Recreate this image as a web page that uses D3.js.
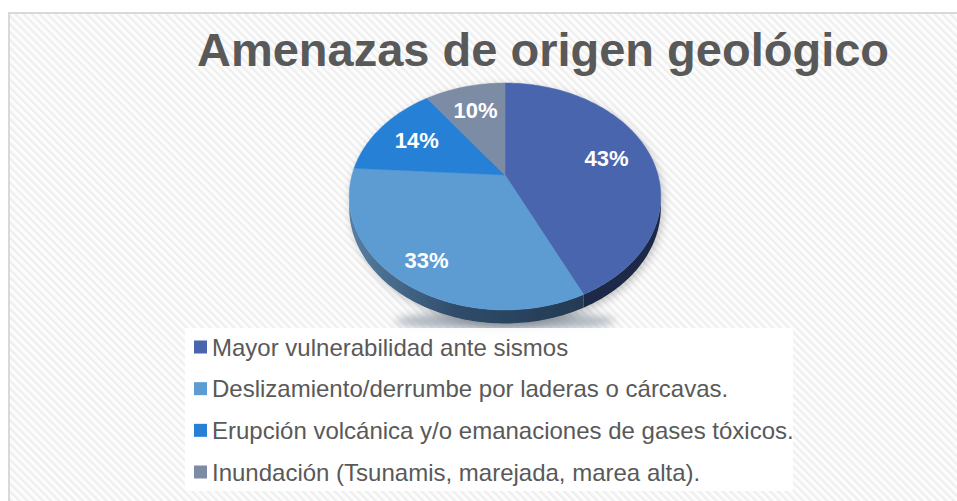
<!DOCTYPE html>
<html>
<head>
<meta charset="utf-8">
<title>Amenazas de origen geológico</title>
<script src="https://cdnjs.cloudflare.com/ajax/libs/d3/7.8.5/d3.min.js"></script>
<style>
  body { margin: 0; background: #fff; }
  text { font-family: "Liberation Sans", Arial, sans-serif; }
</style>
</head>
<body>
<svg id="chart" width="957" height="501"></svg>
<script>

// --- data ---
let categories = [
  'Mayor vulnerabilidad ante sismos',
  'Deslizamiento/derrumbe por laderas o cárcavas.',
  'Erupción volcánica y/o emanaciones de gases tóxicos.',
  'Inundación (Tsunamis, marejada, marea alta).'
];
let values  = [43, 33, 14, 10];
let labels  = ['43%', '33%', '14%', '10%'];
let colors  = ['#4865ae', '#5d9bd3', '#2880d6', '#7d8ca5'];
let sideColors = ['#1d2946', 'url(#side33)', '#1c5a98', '#4f5a6c'];

let svg = d3.select('#chart');
let defs = svg.append('defs');

// hatched background
let pat = defs.append('pattern')
    .attr('id', 'hatch')
    .attr('patternUnits', 'userSpaceOnUse')
    .attr('width', 5.6).attr('height', 5.6)
    .attr('patternTransform', 'rotate(-45)');
pat.append('rect').attr('width', 5.6).attr('height', 5.6).attr('fill', '#fdfdfd');
pat.append('rect').attr('width', 2.4).attr('height', 5.6).attr('fill', '#efefef');

let g33 = defs.append('linearGradient')
    .attr('id', 'side33')
    .attr('gradientUnits', 'userSpaceOnUse')
    .attr('x1', 352).attr('x2', 585).attr('y1', 0).attr('y2', 0);
g33.append('stop').attr('offset', '0%').attr('stop-color', '#577da0');
g33.append('stop').attr('offset', '45%').attr('stop-color', '#2f4c6a');
g33.append('stop').attr('offset', '100%').attr('stop-color', '#243a53');

let blur = defs.append('filter').attr('id', 'blur')
    .attr('x', '-20%').attr('y', '-100%').attr('width', '140%').attr('height', '300%');
blur.append('feGaussianBlur').attr('stdDeviation', 4);

let drop = defs.append('filter').attr('id', 'drop')
    .attr('x', '-10%').attr('y', '-10%').attr('width', '120%').attr('height', '130%');
drop.append('feDropShadow').attr('dx', 2).attr('dy', 3)
    .attr('stdDeviation', 4).attr('flood-color', '#000').attr('flood-opacity', 0.22);

svg.append('rect')
    .attr('x', 9).attr('y', 13).attr('width', 970).attr('height', 510)
    .attr('fill', 'url(#hatch)')
    .attr('stroke', '#d9d9d9').attr('stroke-width', 2);

svg.append('text')
    .attr('x', 543).attr('y', 66)
    .attr('text-anchor', 'middle')
    .attr('font-size', 47).attr('font-weight', 'bold')
    .attr('fill', '#595959')
    .text('Amenazas de origen geológico');

// --- 3D pie, perspective projection of a tilted disc ---
let cx = 505, cy = 175, R = 153, A = 109.4, persp = -0.189, depth = 11;

function proj(theta, k, dz) {
  let u = k * Math.sin(theta), v = -k * Math.cos(theta);
  let den = 1 + persp * v;
  return [cx + R * u / den, cy + A * v / den + (dz || 0) / den];
}

function arcPoints(a0, a1, dz) {
  let n = Math.max(2, Math.ceil((a1 - a0) / 0.02));
  return d3.range(n + 1).map(i => proj(a0 + (a1 - a0) * i / n, 1, dz));
}

let pie = d3.pie().sort(null).value(d => d);
let arcs = pie(values);
let line = d3.line();

// visible side range (silhouette points)
let vis0 = Math.acos(persp), vis1 = 2 * Math.PI - Math.acos(persp);

svg.append('ellipse')
    .attr('cx', cx).attr('cy', 321).attr('rx', 110).attr('ry', 9)
    .attr('fill', '#aab3bd').attr('filter', 'url(#blur)');

let pieG = svg.append('g').attr('filter', 'url(#drop)');

pieG.selectAll('path.side')
  .data(arcs.filter(d => d.endAngle > vis0 && d.startAngle < vis1))
  .join('path')
    .attr('class', 'side')
    .attr('fill', d => sideColors[d.index])
    .attr('d', d => {
      let a0 = Math.max(d.startAngle, vis0), a1 = Math.min(d.endAngle, vis1);
      let pts = arcPoints(a0, a1, 0).concat(arcPoints(a0, a1, depth).reverse());
      return line(pts) + 'Z';
    });

pieG.selectAll('path.top')
  .data(arcs)
  .join('path')
    .attr('class', 'top')
    .attr('fill', d => colors[d.index])
    .attr('stroke', d => colors[d.index]).attr('stroke-width', 0.5)
    .attr('d', d => line([proj(0, 0)].concat(arcPoints(d.startAngle, d.endAngle, 0))) + 'Z');

svg.selectAll('text.lbl')
  .data(arcs)
  .join('text')
    .attr('class', 'lbl')
    .attr('text-anchor', 'middle')
    .attr('font-size', 22).attr('font-weight', 'bold')
    .attr('fill', '#fff')
    .each(function (d) {
      let mid = (d.startAngle + d.endAngle) / 2;
      let near = Math.max(0, -Math.cos(mid));
      let p = proj(mid, 0.7 + 0.12 * near);
      d3.select(this).attr('x', p[0]).attr('y', p[1] + 7.5 + 4 * near);
    })
    .text(d => labels[d.index]);

// --- legend ---
svg.append('rect')
    .attr('x', 185).attr('y', 328).attr('width', 608).attr('height', 163)
    .attr('fill', '#fff').attr('opacity', 0.92);

let legendY = d3.scalePoint().domain(categories).range([347, 472]);

let leg = svg.selectAll('g.leg')
  .data(categories)
  .join('g')
    .attr('class', 'leg')
    .attr('transform', d => `translate(194,${legendY(d)})`);

leg.append('rect')
    .attr('x', 0).attr('y', -6.5).attr('width', 13).attr('height', 13)
    .attr('fill', (d, i) => colors[i]);

leg.append('text')
    .attr('x', 18).attr('y', 8.5)
    .attr('font-size', 24)
    .attr('fill', '#595959')
    .text(d => d);

</script>
</body>
</html>
